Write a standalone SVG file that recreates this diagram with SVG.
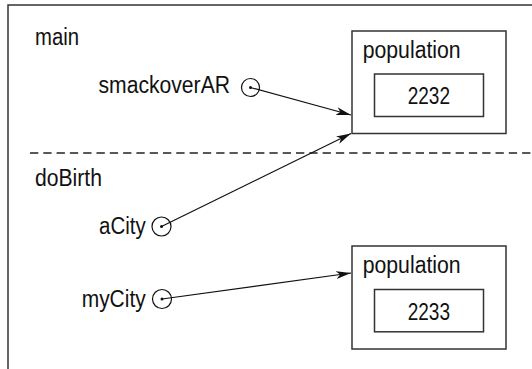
<svg xmlns="http://www.w3.org/2000/svg" width="532" height="369" viewBox="0 0 532 369">
  <style>
    .t { font-family: "Liberation Sans Narrow", "Liberation Sans", Arial, sans-serif; font-size: 23.5px; fill: #111; }
    .frame { fill: none; stroke: #333; stroke-width: 1.5; }
    .box { fill: #fff; stroke: #333; stroke-width: 1.5; }
    .ref { fill: none; stroke: #111; stroke-width: 1.2; }
    .dot { fill: #111; }
    .conn { fill: none; stroke: #111; stroke-width: 1.2; marker-end: url(#ah); }
  </style>
  <defs>
    <marker id="ah" markerWidth="16" markerHeight="10" refX="15" refY="5" orient="auto" markerUnits="userSpaceOnUse">
      <path d="M0,1 L15,5 L0,9 L4,5 z" fill="#111"/>
    </marker>
  </defs>
  <rect width="532" height="369" fill="#fff"/>

  <g id="frame">
    <path class="frame" d="M532,5 H8 V369"/>
    <line x1="30" y1="153" x2="532" y2="153" stroke="#222" stroke-width="1.3" stroke-dasharray="8.3 5"/>
    <text class="t" x="35" y="44.5" textLength="44" lengthAdjust="spacingAndGlyphs">main</text>
    <text class="t" x="35" y="186" textLength="67" lengthAdjust="spacingAndGlyphs">doBirth</text>
  </g>

  <g id="smackoverAR">
    <text class="t" x="98.5" y="93" textLength="131.5" lengthAdjust="spacingAndGlyphs">smackoverAR</text>
    <circle class="ref" cx="250.5" cy="87.5" r="9"/>
    <circle class="dot" cx="250.5" cy="87.5" r="1.5"/>
  </g>

  <g id="aCity">
    <text class="t" x="99" y="234" textLength="46.7" lengthAdjust="spacingAndGlyphs">aCity</text>
    <circle class="ref" cx="161.5" cy="226.5" r="9.5"/>
    <circle class="dot" cx="161.5" cy="226.5" r="1.5"/>
  </g>

  <g id="myCity">
    <text class="t" x="81.7" y="306.5" textLength="64" lengthAdjust="spacingAndGlyphs">myCity</text>
    <circle class="ref" cx="162" cy="299" r="9.5"/>
    <circle class="dot" cx="162" cy="299" r="1.5"/>
  </g>

  <g id="population1">
    <rect class="box" x="352" y="31" width="154" height="102.5"/>
    <text class="t" x="362.7" y="58.3" textLength="98" lengthAdjust="spacingAndGlyphs">population</text>
    <rect class="box" x="374.5" y="74" width="109" height="42.5"/>
    <text class="t" x="407.7" y="104" textLength="42.3" lengthAdjust="spacingAndGlyphs">2232</text>
  </g>

  <g id="population2">
    <rect class="box" x="352" y="246" width="154" height="103"/>
    <text class="t" x="362.7" y="273.3" textLength="98" lengthAdjust="spacingAndGlyphs">population</text>
    <rect class="box" x="374.5" y="289.5" width="109" height="42.3"/>
    <text class="t" x="407.7" y="320" textLength="42.3" lengthAdjust="spacingAndGlyphs">2233</text>
  </g>

  <g id="connectors">
    <line class="conn" x1="250.5" y1="87.5" x2="351" y2="115"/>
    <line class="conn" x1="161.5" y1="226.5" x2="351" y2="133.5"/>
    <line class="conn" x1="162" y1="299" x2="351" y2="273"/>
  </g>
</svg>
